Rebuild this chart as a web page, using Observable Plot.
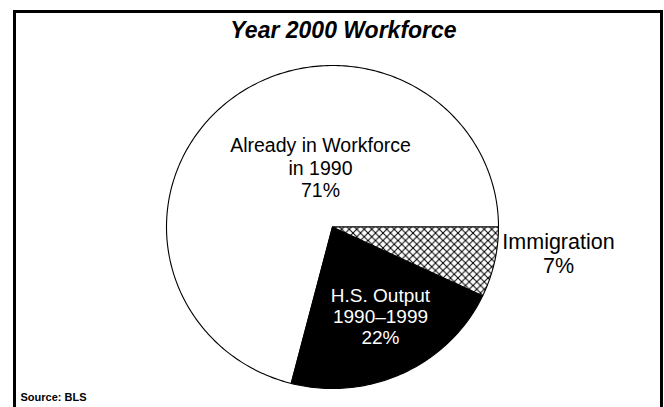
<!DOCTYPE html>
<html>
<head>
<meta charset="utf-8">
<script src="https://cdn.jsdelivr.net/npm/d3@7"></script>
<script src="https://cdn.jsdelivr.net/npm/@observablehq/plot@0.6"></script>
<style>
  html, body { margin: 0; padding: 0; background: #fff; overflow: hidden; }
  #wrap { position: relative; width: 664px; height: 407px; }
  #box { position: absolute; left: 13px; top: 10px; width: 644px; height: 420px; border: 3px solid #000; pointer-events: none; }
  svg { font-family: "Liberation Sans", Arial, Helvetica, sans-serif; }
</style>
</head>
<body>
<div id="wrap"><div id="box"></div></div>
<script>
// ---- data ----
const categories = ["Immigration", "H.S. Output 1990–1999", "Already in Workforce in 1990"];
const shares = [7, 22, 71];
const labelTexts = ["Immigration\n7%", "H.S. Output\n1990–1999\n22%", "Already in Workforce\nin 1990\n71%"];
const title = "Year 2000 Workforce";
const source = "Source: BLS";

// ---- layout (pixels) ----
const W = 664, H = 407;
const cx = 332, cy = 226.5, rx = 166, ry = 161.5;
const startAngle = 90; // degrees clockwise from 12 o'clock
const fills = ["url(#hatch)", "#000", "#fff"];
const labelPos = [
  {x: 558, y: 232, size: 21.5, lh: 1.1, color: "#000"},
  {x: 380, y: 286, size: 19, lh: 1.12, color: "#fff"},
  {x: 320, y: 136, size: 19.5, lh: 1.15, color: "#000"}
];
const toX = (px) => (px - cx) / rx;
const toY = (py) => (cy - py) / ry;

// build slice outlines from shares (geometry of the pie)
const total = d3.sum(shares);
let acc = startAngle;
const slices = categories.map((c, i) => {
  const a0 = acc, a1 = acc + shares[i] / total * 360;
  acc = a1;
  const pts = [{x: 0, y: 0}];
  const n = Math.max(2, Math.ceil(a1 - a0));
  for (let k = 0; k <= n; ++k) {
    const a = (a0 + (a1 - a0) * k / n) * Math.PI / 180;
    pts.push({x: Math.sin(a), y: Math.cos(a)});
  }
  return {category: c, pts, fill: fills[i]};
});

const drawOrder = [2, 1, 0];
const marks = drawOrder.map(i =>
  Plot.line(slices[i].pts, {x: "x", y: "y", curve: "linear-closed", fill: slices[i].fill, stroke: "#000", strokeWidth: 1.1})
);
labelTexts.forEach((t, i) => {
  const p = labelPos[i];
  marks.push(Plot.text([t], {
    x: () => toX(p.x), y: () => toY(p.y), text: d => d,
    fontSize: p.size, lineAnchor: "top", lineHeight: p.lh, fill: p.color, textAnchor: "middle"
  }));
});
marks.push(Plot.text([title], {x: () => toX(343), y: () => toY(21), text: d => d, lineAnchor: "top",
  fontSize: 23, fontWeight: "bold", fontStyle: "italic", textAnchor: "middle"}));
marks.push(Plot.text([source], {x: () => toX(20), y: () => toY(393), text: d => d, lineAnchor: "top",
  fontSize: 11, fontWeight: "bold", textAnchor: "start"}));

const svg = Plot.plot({
  width: W, height: H,
  marginLeft: cx - rx, marginRight: W - (cx + rx),
  marginTop: cy - ry, marginBottom: H - (cy + ry),
  x: {domain: [-1, 1], axis: null},
  y: {domain: [-1, 1], axis: null},
  style: {background: "transparent", overflow: "visible", fontFamily: "'Liberation Sans', Arial, sans-serif"},
  marks
});

const defs = d3.select(svg).insert("defs", ":first-child");
const pat = defs.append("pattern").attr("id", "hatch").attr("patternUnits", "userSpaceOnUse")
  .attr("width", 7.5).attr("height", 7.5);
pat.append("rect").attr("width", 7.5).attr("height", 7.5).attr("fill", "#fff");
pat.append("path").attr("d", "M-1,-1L8.5,8.5M8.5,-1L-1,8.5").attr("stroke", "#000").attr("stroke-width", 1);

const wrap = document.getElementById("wrap");
svg.style.position = "absolute";
svg.style.left = "0"; svg.style.top = "0";
wrap.insertBefore(svg, wrap.firstChild);
</script>
</body>
</html>
